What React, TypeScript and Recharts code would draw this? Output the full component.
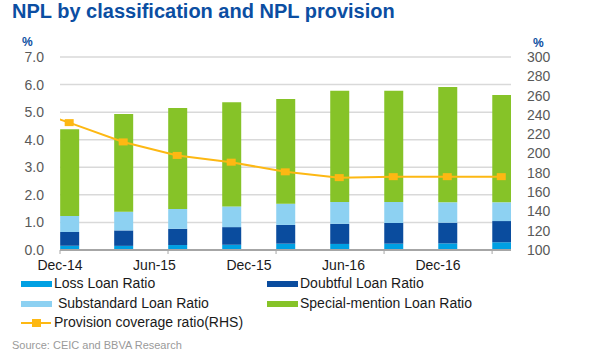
import React from 'react';
import { ComposedChart, Bar, Line, XAxis, YAxis, CartesianGrid } from 'recharts';

const quarters = ['Dec-14', 'Mar-15', 'Jun-15', 'Sep-15', 'Dec-15', 'Mar-16', 'Jun-16', 'Sep-16', 'Dec-16'];
const lossRatio = [0.15, 0.15, 0.18, 0.19, 0.23, 0.22, 0.23, 0.24, 0.28];
const doubtfulRatio = [0.50, 0.56, 0.59, 0.64, 0.68, 0.73, 0.75, 0.75, 0.77];
const substandardRatio = [0.58, 0.68, 0.72, 0.75, 0.77, 0.79, 0.76, 0.74, 0.68];
const specialMentionRatio = [3.15, 3.54, 3.66, 3.78, 3.80, 4.04, 4.04, 4.18, 3.89];
const provisionCoverage = [232, 212, 198, 191, 181, 175, 176, 176, 176];
// previous quarter, only its line segment shows at the left edge
const priorProvision = 251;
const axisLabels = ['Dec-14', 'Jun-15', 'Dec-15', 'Jun-16', 'Dec-16'];
const leftTicks = [0, 1, 2, 3, 4, 5, 6, 7];
const rightTicks = [100, 120, 140, 160, 180, 200, 220, 240, 260, 280, 300];

const C = {
  loss: '#00A0E3',
  doubtful: '#0A4C9E',
  substandard: '#8DD1F2',
  special: '#86C328',
  line: '#FDB813',
  title: '#0B4EA2',
};

const data = [
  { idx: -1, pos: -1, provision: priorProvision },
  ...quarters.map((q, i) => ({
    idx: i,
    pos: i / 2,
    name: q,
    loss: lossRatio[i],
    doubtful: doubtfulRatio[i],
    substandard: substandardRatio[i],
    special: specialMentionRatio[i],
    provision: provisionCoverage[i],
  })),
];

const FONT = 'Arial, "Liberation Sans", sans-serif';

const SquareDot = (props: any) => {
  const { cx, cy } = props;
  if (cx == null || cy == null) return <g />;
  return <rect x={cx - 4.5} y={cy - 3.5} width={9} height={7} fill={C.line} />;
};

const Swatch = ({ color }: { color: string }) => (
  <span style={{ display: 'inline-block', width: 31, height: 6, background: color, marginRight: 2, verticalAlign: 'middle' }} />
);

const legendText: React.CSSProperties = { fontSize: 14, color: '#1a1a1a', verticalAlign: 'middle' };

export default function App() {
  return (
    <div style={{ position: 'relative', width: 600, height: 360, background: '#fff', fontFamily: FONT, overflow: 'hidden' }}>
      <style>{'body{margin:0}'}</style>
      <div style={{ position: 'absolute', left: 12, top: 0, fontSize: 20, fontWeight: 'bold', color: C.title }}>
        NPL by classification and NPL provision
      </div>
      <div style={{ position: 'absolute', left: 22, top: 35, fontSize: 12, fontWeight: 'bold', color: C.title }}>%</div>
      <div style={{ position: 'absolute', left: 533, top: 36, fontSize: 12, fontWeight: 'bold', color: C.title }}>%</div>

      <div style={{ position: 'absolute', left: 0, top: 0 }}>
        <ComposedChart width={600} height={360} data={data} margin={{ top: 57, right: 44, bottom: 80, left: 20 }}>
          <CartesianGrid yAxisId="left" xAxisId="bars" vertical={false} stroke="#d9d9d9" strokeWidth={1.5} />
          <XAxis
            xAxisId="bars"
            dataKey="idx"
            type="number"
            domain={[-0.17, 8.18]}
            allowDataOverflow
            ticks={axisLabels.map((l) => quarters.indexOf(l) - 0.17)}
            tickFormatter={() => ''}
            height={6}
            tickSize={4}
            axisLine={{ stroke: '#a6a6a6', strokeWidth: 2 }}
            tickLine={{ stroke: '#a6a6a6' }}
          />
          <XAxis
            xAxisId="labels"
            dataKey="pos"
            type="number"
            domain={[0, 4.772]}
            allowDataOverflow
            ticks={axisLabels.map((_, i) => i)}
            interval={0}
            tickFormatter={(v: number) => axisLabels[v] ?? ''}
            height={24}
            tickSize={0}
            tickMargin={4}
            axisLine={false}
            tickLine={false}
            tick={{ fill: '#1a1a1a', fontSize: 14, fontFamily: FONT }}
          />
          <YAxis
            yAxisId="left"
            domain={[0, 7]}
            ticks={leftTicks}
            interval={0}
            tickFormatter={(v: number) => v.toFixed(1)}
            width={40}
            axisLine={false}
            tickLine={false}
            tickMargin={10}
            tick={{ fill: '#595959', fontSize: 14, fontFamily: FONT }}
          />
          <YAxis
            yAxisId="right"
            orientation="right"
            domain={[100, 300]}
            ticks={rightTicks}
            interval={0}
            width={45}
            axisLine={false}
            tickLine={false}
            tickMargin={10}
            tick={{ fill: '#595959', fontSize: 14, fontFamily: FONT }}
          />
          <Bar xAxisId="bars" yAxisId="left" dataKey="loss" stackId="a" fill={C.loss} barSize={19} isAnimationActive={false} />
          <Bar xAxisId="bars" yAxisId="left" dataKey="doubtful" stackId="a" fill={C.doubtful} barSize={19} isAnimationActive={false} />
          <Bar xAxisId="bars" yAxisId="left" dataKey="substandard" stackId="a" fill={C.substandard} barSize={19} isAnimationActive={false} />
          <Bar xAxisId="bars" yAxisId="left" dataKey="special" stackId="a" fill={C.special} barSize={19} isAnimationActive={false} />
          <Line
            xAxisId="bars"
            yAxisId="right"
            dataKey="provision"
            type="linear"
            stroke={C.line}
            strokeWidth={2}
            dot={<SquareDot />}
            activeDot={false}
            isAnimationActive={false}
          />
        </ComposedChart>
      </div>

      <div style={{ position: 'absolute', left: 21, top: 275, ...legendText }}><Swatch color={C.loss} />Loss Loan Ratio</div>
      <div style={{ position: 'absolute', left: 267, top: 275, ...legendText }}><Swatch color={C.doubtful} />Doubtful Loan Ratio</div>
      <div style={{ position: 'absolute', left: 21, top: 295, ...legendText }}><Swatch color={C.substandard} /> Substandard Loan Ratio</div>
      <div style={{ position: 'absolute', left: 267, top: 295, ...legendText }}><Swatch color={C.special} />Special-mention Loan Ratio</div>
      <div style={{ position: 'absolute', left: 21, top: 314, ...legendText }}>
        <span style={{ display: 'inline-block', position: 'relative', width: 31, height: 8, marginRight: 2, verticalAlign: 'middle' }}>
          <span style={{ position: 'absolute', left: 0, top: 3, width: 30, height: 2, background: C.line }} />
          <span style={{ position: 'absolute', left: 11, top: 0, width: 9, height: 8, background: C.line }} />
        </span>
        Provision coverage ratio(RHS)
      </div>
      <div style={{ position: 'absolute', left: 12, top: 339, fontSize: 11, color: '#9a9a9a' }}>Source: CEIC and BBVA Research</div>
    </div>
  );
}
